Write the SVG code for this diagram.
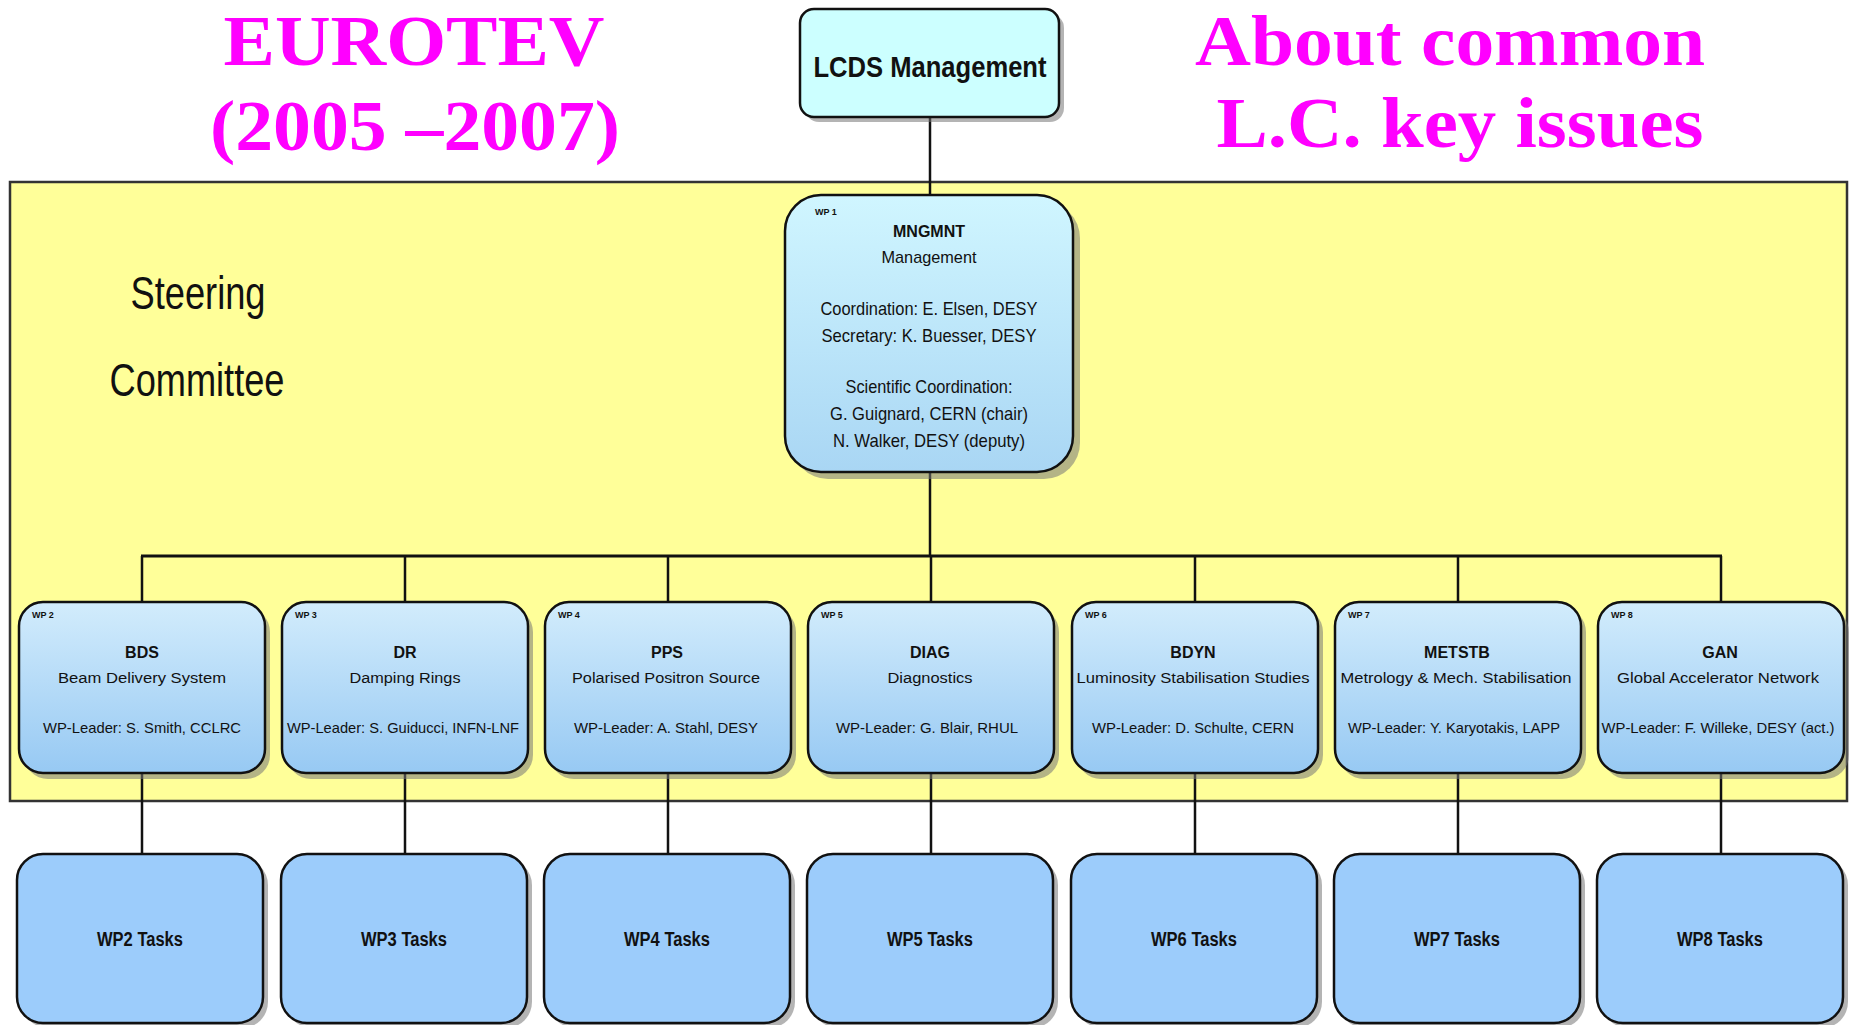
<svg xmlns="http://www.w3.org/2000/svg" width="1852" height="1025" viewBox="0 0 1852 1025">
<defs>
<linearGradient id="gWP" x1="0" y1="0" x2="0" y2="1">
<stop offset="0" stop-color="#d2ecfc"/><stop offset="1" stop-color="#97c9f3"/>
</linearGradient>
<linearGradient id="gMG" x1="0" y1="0" x2="0" y2="1">
<stop offset="0" stop-color="#d0f6ff"/><stop offset="1" stop-color="#a9d6f4"/>
</linearGradient>
</defs>
<style>
.title{font-family:"Liberation Serif","Times New Roman",serif;font-weight:bold;font-size:72px;fill:#ff00ff;text-anchor:middle}
.box{stroke:#111;stroke-width:2.5}
.shadow{fill:#777;opacity:0.55}
.t{font-family:"Liberation Sans",Arial,sans-serif;fill:#111;text-anchor:middle}
.b{font-weight:bold}
.wpn{font-family:"Liberation Sans",Arial,sans-serif;font-weight:bold;font-size:9px;fill:#111}
.sc{font-family:"Liberation Sans",Arial,sans-serif;font-size:47px;fill:#111;text-anchor:middle}
.conn{stroke:#111;stroke-width:2.5;fill:none}
</style>
<rect width="1852" height="1025" fill="#fff"/>
<g id="titles">
<text class="title" x="414" y="65" textLength="381" lengthAdjust="spacingAndGlyphs">EUROTEV</text>
<text class="title" x="415" y="150" textLength="410" lengthAdjust="spacingAndGlyphs">(2005 –2007)</text>
<text class="title" x="1450" y="65" textLength="510" lengthAdjust="spacingAndGlyphs">About common</text>
<text class="title" x="1460" y="147" textLength="487" lengthAdjust="spacingAndGlyphs">L.C. key issues</text>
</g>
<g id="steering">
<rect x="10" y="182" width="1837" height="619" fill="#ffff99" stroke="#333" stroke-width="2.5"/>
<text class="sc" x="198" y="309" textLength="135" lengthAdjust="spacingAndGlyphs">Steering</text>
<text class="sc" x="197" y="396" textLength="175" lengthAdjust="spacingAndGlyphs">Committee</text>
</g>
<g id="connectors">
<line class="conn" x1="930" y1="117" x2="930" y2="195"/>
<line class="conn" x1="930" y1="472" x2="930" y2="556"/>
<line x1="141" y1="556" x2="1722" y2="556" stroke="#111" stroke-width="3"/>
<path class="conn" d="M142 556V602M405 556V602M668 556V602M931 556V602M1195 556V602M1458 556V602M1721 556V602"/>
<path class="conn" d="M142 773V854M405 773V854M668 773V854M931 773V854M1195 773V854M1458 773V854M1721 773V854"/>
</g>
<g id="lcds">
<rect class="shadow" x="805" y="14" width="259" height="108" rx="14"/>
<rect class="box" x="800" y="9" width="259" height="108" rx="14" fill="#ccffff"/>
<text class="t b" x="930" y="77" font-size="30" textLength="233" lengthAdjust="spacingAndGlyphs">LCDS Management</text>
</g>
<g id="wp1">
<rect class="shadow" x="792" y="202" width="288" height="277" rx="36"/>
<rect class="box" x="785" y="195" width="288" height="277" rx="36" fill="url(#gMG)"/>
<text class="wpn" x="815" y="215">WP 1</text>
<text class="t b" x="929" y="237" font-size="17" textLength="72" lengthAdjust="spacingAndGlyphs">MNGMNT</text>
<text class="t" x="929" y="263" font-size="17" textLength="95" lengthAdjust="spacingAndGlyphs">Management</text>
<text class="t" x="929" y="315" font-size="18.5" textLength="217" lengthAdjust="spacingAndGlyphs">Coordination: E. Elsen, DESY</text>
<text class="t" x="929" y="342" font-size="18.5" textLength="215" lengthAdjust="spacingAndGlyphs">Secretary: K. Buesser, DESY</text>
<text class="t" x="929" y="393" font-size="18.5" textLength="167" lengthAdjust="spacingAndGlyphs">Scientific Coordination:</text>
<text class="t" x="929" y="420" font-size="18.5" textLength="198" lengthAdjust="spacingAndGlyphs">G. Guignard, CERN (chair)</text>
<text class="t" x="929" y="447" font-size="18.5" textLength="192" lengthAdjust="spacingAndGlyphs">N. Walker, DESY (deputy)</text>
</g>
<g id="wp2">
<rect class="shadow" x="24" y="608" width="246" height="171" rx="24"/>
<rect class="box" x="19" y="602" width="246" height="171" rx="24" fill="url(#gWP)"/>
<text class="wpn" x="32" y="618">WP 2</text>
<text class="t b" x="142" y="658" font-size="16">BDS</text>
<text class="t" x="142" y="683" font-size="15.5" textLength="168" lengthAdjust="spacingAndGlyphs">Beam Delivery System</text>
<text class="t" x="142" y="733" font-size="15" textLength="198" lengthAdjust="spacingAndGlyphs">WP-Leader: S. Smith, CCLRC</text>
</g>
<g id="wp3">
<rect class="shadow" x="287" y="608" width="246" height="171" rx="24"/>
<rect class="box" x="282" y="602" width="246" height="171" rx="24" fill="url(#gWP)"/>
<text class="wpn" x="295" y="618">WP 3</text>
<text class="t b" x="405" y="658" font-size="16">DR</text>
<text class="t" x="405" y="683" font-size="15.5" textLength="111" lengthAdjust="spacingAndGlyphs">Damping Rings</text>
<text class="t" x="403" y="733" font-size="15" textLength="232" lengthAdjust="spacingAndGlyphs">WP-Leader: S. Guiducci, INFN-LNF</text>
</g>
<g id="wp4">
<rect class="shadow" x="550" y="608" width="246" height="171" rx="24"/>
<rect class="box" x="545" y="602" width="246" height="171" rx="24" fill="url(#gWP)"/>
<text class="wpn" x="558" y="618">WP 4</text>
<text class="t b" x="667" y="658" font-size="16">PPS</text>
<text class="t" x="666" y="683" font-size="15.5" textLength="188" lengthAdjust="spacingAndGlyphs">Polarised Positron Source</text>
<text class="t" x="666" y="733" font-size="15" textLength="184" lengthAdjust="spacingAndGlyphs">WP-Leader: A. Stahl, DESY</text>
</g>
<g id="wp5">
<rect class="shadow" x="813" y="608" width="246" height="171" rx="24"/>
<rect class="box" x="808" y="602" width="246" height="171" rx="24" fill="url(#gWP)"/>
<text class="wpn" x="821" y="618">WP 5</text>
<text class="t b" x="930" y="658" font-size="16">DIAG</text>
<text class="t" x="930" y="683" font-size="15.5" textLength="85" lengthAdjust="spacingAndGlyphs">Diagnostics</text>
<text class="t" x="927" y="733" font-size="15" textLength="182" lengthAdjust="spacingAndGlyphs">WP-Leader: G. Blair, RHUL</text>
</g>
<g id="wp6">
<rect class="shadow" x="1077" y="608" width="246" height="171" rx="24"/>
<rect class="box" x="1072" y="602" width="246" height="171" rx="24" fill="url(#gWP)"/>
<text class="wpn" x="1085" y="618">WP 6</text>
<text class="t b" x="1193" y="658" font-size="16">BDYN</text>
<text class="t" x="1193" y="683" font-size="15.5" textLength="233" lengthAdjust="spacingAndGlyphs">Luminosity Stabilisation Studies</text>
<text class="t" x="1193" y="733" font-size="15" textLength="202" lengthAdjust="spacingAndGlyphs">WP-Leader: D. Schulte, CERN</text>
</g>
<g id="wp7">
<rect class="shadow" x="1340" y="608" width="246" height="171" rx="24"/>
<rect class="box" x="1335" y="602" width="246" height="171" rx="24" fill="url(#gWP)"/>
<text class="wpn" x="1348" y="618">WP 7</text>
<text class="t b" x="1457" y="658" font-size="16">METSTB</text>
<text class="t" x="1456" y="683" font-size="15.5" textLength="231" lengthAdjust="spacingAndGlyphs">Metrology &amp; Mech. Stabilisation</text>
<text class="t" x="1454" y="733" font-size="15" textLength="212" lengthAdjust="spacingAndGlyphs">WP-Leader: Y. Karyotakis, LAPP</text>
</g>
<g id="wp8">
<rect class="shadow" x="1603" y="608" width="246" height="171" rx="24"/>
<rect class="box" x="1598" y="602" width="246" height="171" rx="24" fill="url(#gWP)"/>
<text class="wpn" x="1611" y="618">WP 8</text>
<text class="t b" x="1720" y="658" font-size="16">GAN</text>
<text class="t" x="1718" y="683" font-size="15.5" textLength="202" lengthAdjust="spacingAndGlyphs">Global Accelerator Network</text>
<text class="t" x="1718" y="733" font-size="15" textLength="233" lengthAdjust="spacingAndGlyphs">WP-Leader: F. Willeke, DESY (act.)</text>
</g>
<g id="tasks">
<g id="wp2tasks"><rect class="shadow" x="22" y="859" width="246" height="169" rx="26"/><rect class="box" x="17" y="854" width="246" height="169" rx="26" fill="#9cccfb"/><text class="t b" x="140" y="946" font-size="20" textLength="86" lengthAdjust="spacingAndGlyphs">WP2 Tasks</text></g>
<g id="wp3tasks"><rect class="shadow" x="286" y="859" width="246" height="169" rx="26"/><rect class="box" x="281" y="854" width="246" height="169" rx="26" fill="#9cccfb"/><text class="t b" x="404" y="946" font-size="20" textLength="86" lengthAdjust="spacingAndGlyphs">WP3 Tasks</text></g>
<g id="wp4tasks"><rect class="shadow" x="549" y="859" width="246" height="169" rx="26"/><rect class="box" x="544" y="854" width="246" height="169" rx="26" fill="#9cccfb"/><text class="t b" x="667" y="946" font-size="20" textLength="86" lengthAdjust="spacingAndGlyphs">WP4 Tasks</text></g>
<g id="wp5tasks"><rect class="shadow" x="812" y="859" width="246" height="169" rx="26"/><rect class="box" x="807" y="854" width="246" height="169" rx="26" fill="#9cccfb"/><text class="t b" x="930" y="946" font-size="20" textLength="86" lengthAdjust="spacingAndGlyphs">WP5 Tasks</text></g>
<g id="wp6tasks"><rect class="shadow" x="1076" y="859" width="246" height="169" rx="26"/><rect class="box" x="1071" y="854" width="246" height="169" rx="26" fill="#9cccfb"/><text class="t b" x="1194" y="946" font-size="20" textLength="86" lengthAdjust="spacingAndGlyphs">WP6 Tasks</text></g>
<g id="wp7tasks"><rect class="shadow" x="1339" y="859" width="246" height="169" rx="26"/><rect class="box" x="1334" y="854" width="246" height="169" rx="26" fill="#9cccfb"/><text class="t b" x="1457" y="946" font-size="20" textLength="86" lengthAdjust="spacingAndGlyphs">WP7 Tasks</text></g>
<g id="wp8tasks"><rect class="shadow" x="1602" y="859" width="246" height="169" rx="26"/><rect class="box" x="1597" y="854" width="246" height="169" rx="26" fill="#9cccfb"/><text class="t b" x="1720" y="946" font-size="20" textLength="86" lengthAdjust="spacingAndGlyphs">WP8 Tasks</text></g>
</g>
</svg>
